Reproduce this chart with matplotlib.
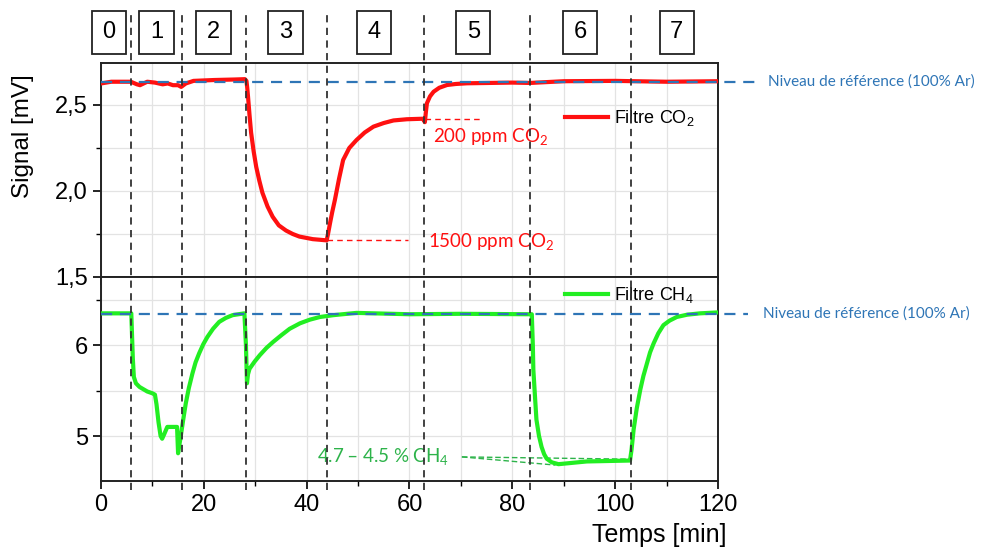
import numpy as np
import matplotlib
matplotlib.use("Agg")
import matplotlib.pyplot as plt
from matplotlib.lines import Line2D
from matplotlib.ticker import MultipleLocator, FuncFormatter
from matplotlib.transforms import blended_transform_factory

plt.rcParams['font.family'] = ['Liberation Sans', 'DejaVu Sans']
plt.rcParams['mathtext.default'] = 'regular'

# signal (time in min)
t_co2 = [0, 2, 5.8, 7.0, 7.6, 9, 10.5, 12, 13, 14, 15, 15.6, 16.5, 18, 22, 26, 28.0,
         28.3, 28.45, 28.6, 28.9, 29.2, 29.7, 30.2, 30.8, 31.4, 32.4, 33.4, 34.6, 36, 37.3,
         38.6, 41.2, 43.9, 44.2, 44.6, 45.0, 45.5, 46.3, 47.1, 48.3, 49.7, 51.3, 53, 55,
         56.9, 59.5, 62.6, 63.0, 63.2, 63.4, 64.0, 64.7, 65.8, 67.3, 69, 71.2, 80, 83.5,
         90, 100, 110, 120]
v_co2 = [2.625, 2.635, 2.635, 2.62, 2.615, 2.635, 2.63, 2.62, 2.625, 2.615, 2.615, 2.605,
         2.625, 2.64, 2.645, 2.648, 2.65,
         2.64, 2.60, 2.55, 2.44, 2.34, 2.23, 2.14, 2.06, 1.99, 1.91, 1.85, 1.80, 1.77, 1.75,
         1.735, 1.72, 1.713, 1.756, 1.82, 1.88, 1.948, 2.07, 2.18, 2.25, 2.296, 2.34, 2.374, 2.395,
         2.41, 2.417, 2.42, 2.40, 2.46, 2.51, 2.55, 2.577, 2.60, 2.616, 2.622, 2.626, 2.63, 2.628,
         2.638, 2.64, 2.635, 2.638]

t_ch4 = [0, 5.9, 6.05, 6.2, 6.4, 6.8, 7.5, 8.1, 9.0, 10.0, 10.5, 10.8, 11.2, 11.6, 11.9,
         12.3, 12.9, 14.8, 15.0, 15.5, 16.0, 16.5, 17.1, 17.8, 18.4, 19.1, 19.9, 20.7, 21.8,
         23.0, 24.3, 25.6, 27.9, 28.2, 28.4, 28.6, 28.9, 29.9, 30.9, 32.2, 33.5, 35.1, 36.7,
         38.7, 40.6, 42.6, 45.2, 49.7, 60, 70, 83.5, 83.8, 84.0, 84.1, 84.4, 84.7, 85.2,
         85.7, 86.2, 86.7, 87.7, 89.0, 94.5, 102.9, 103.2, 103.6, 104.2, 104.9, 105.5,
         106.2, 106.8, 107.5, 108.4, 109.4, 110.6, 112.0, 114, 116.5, 120]
v_ch4 = [6.35, 6.35, 6.1, 5.85, 5.65, 5.58, 5.54, 5.52, 5.49, 5.47, 5.455, 5.35, 5.15, 5.0,
         4.97, 5.02, 5.10, 5.10, 4.81, 4.99, 5.18, 5.36, 5.53, 5.69, 5.81, 5.91, 6.01, 6.09,
         6.18, 6.256, 6.30, 6.33, 6.35, 6.0, 5.58, 5.68, 5.74, 5.82, 5.89, 5.97, 6.036, 6.11,
         6.18, 6.24, 6.28, 6.31, 6.33, 6.355, 6.34, 6.345, 6.34, 6.34, 6.0, 5.73, 5.45, 5.18,
         5.0, 4.88, 4.80, 4.75, 4.71, 4.69, 4.72, 4.73, 4.85, 5.07, 5.30, 5.51, 5.66, 5.80,
         5.92, 6.02, 6.13, 6.22, 6.27, 6.31, 6.335, 6.35, 6.36]

ref_co2 = 2.636
ref_ch4 = 6.345
steps = [5.8, 15.7, 28.3, 43.9, 62.9, 83.5, 103.1]
step_labels = ['0', '1', '2', '3', '4', '5', '6', '7']
step_label_x = [1.6, 10.8, 21.9, 35.9, 53.1, 72.4, 93.2, 112.0]

red = '#FF1010'
green = '#22EE22'
blue = '#2E75B6'
dgreen = '#2DB34A'
grid_c = '#E3E3E3'

fig = plt.figure(figsize=(9.84, 5.54), dpi=100)
ax1 = fig.add_axes([0.1026, 0.5, 0.627, 0.3863])
ax2 = fig.add_axes([0.1026, 0.1318, 0.627, 0.3682])

for ax in (ax1, ax2):
    ax.set_xlim(0, 120)
    ax.xaxis.set_major_locator(MultipleLocator(20))
    ax.xaxis.set_minor_locator(MultipleLocator(10))
    ax.grid(True, which='both', color=grid_c, lw=0.9)
    ax.set_axisbelow(True)
    ax.tick_params(which='major', length=6, width=1.2, labelsize=17)
    ax.tick_params(which='minor', length=3.5, width=1.0)
    for s in ax.spines.values():
        s.set_linewidth(1.4)
        s.set_color('#222222')

comma = FuncFormatter(lambda v, p: ('%.1f' % v).replace('.', ','))

ax1.set_ylim(1.5, 2.744)
ax1.yaxis.set_major_locator(MultipleLocator(0.5))
ax1.yaxis.set_minor_locator(MultipleLocator(0.25))
ax1.yaxis.set_major_formatter(comma)
ax1.tick_params(axis='x', labelbottom=False)
ax1.set_ylabel('Signal [mV]', fontsize=17.5)
ax1.yaxis.set_label_coords(-0.108, 0.66)

ax2.set_ylim(4.505, 6.75)
ax2.set_yticks([5, 6])
ax2.set_yticks([5.5, 6.5], minor=True)
ax2.set_xlabel('Temps [min]', fontsize=18)
ax2.xaxis.set_label_coords(0.905, -0.205)

ax1.plot(t_co2, v_co2, color=red, lw=3, label='Filtre CO$_2$', zorder=3)
ax2.plot(t_ch4, v_ch4, color=green, lw=3, label='Filtre CH$_4$', zorder=3)

# reference levels
ax1.plot([0, 127.8], [ref_co2, ref_co2], color=blue, lw=1.6, ls=(0, (5, 3.5)), clip_on=False, zorder=4)
ax2.plot([0, 125.9], [ref_ch4, ref_ch4], color=blue, lw=1.6, ls=(0, (5, 3.5)), clip_on=False, zorder=4)
ax1.text(129.8, ref_co2, 'Niveau de référence (100% Ar)', color=blue, fontsize=11,
         family=['Lato', 'DejaVu Sans'], va='center', ha='left', clip_on=False)
ax2.text(128.8, ref_ch4, 'Niveau de référence (100% Ar)', color=blue, fontsize=11,
         family=['Lato', 'DejaVu Sans'], va='center', ha='left', clip_on=False)

# CO2 annotations
ax1.plot([44, 59.7], [1.715, 1.715], color=red, lw=1, ls=(0, (4, 3)))
ax1.plot([63, 73.7], [2.42, 2.42], color=red, lw=1, ls=(0, (4, 3)))
ax1.text(64.6, 2.314, '200 ppm CO$_2$', color=red, fontsize=13.5,
         family=['Lato', 'DejaVu Sans'], va='center', ha='left')
ax1.text(63.6, 1.705, '1500 ppm CO$_2$', color=red, fontsize=13.5,
         family=['Lato', 'DejaVu Sans'], va='center', ha='left')

# CH4 annotation
ax2.plot([70.2, 103], [4.77, 4.745], color=dgreen, lw=1, ls=(0, (4, 2)))
ax2.plot([70.2, 88.4], [4.77, 4.68], color=dgreen, lw=1, ls=(0, (4, 2)))
ax2.text(42.0, 4.77, '4.7 – 4.5 % CH$_4$', color=dgreen, fontsize=13.5,
         family=['Lato', 'DejaVu Sans'], va='center', ha='left')

ax1.legend(loc='center left', bbox_to_anchor=(0.752, 0.743), frameon=False, fontsize=13,
           borderaxespad=0, borderpad=0, handlelength=2.4, handletextpad=0.3)
ax2.legend(loc='center left', bbox_to_anchor=(0.752, 0.912), frameon=False, fontsize=13,
           borderaxespad=0, borderpad=0, handlelength=2.4, handletextpad=0.3)

# step boundaries across both panels
tr = blended_transform_factory(ax2.transData, fig.transFigure)
for s in steps:
    fig.add_artist(Line2D([s, s], [0.1155, 0.978], transform=tr, color='#333333',
                          lw=1.3, ls=(0, (4, 3))))

# step numbers in boxes
for x, lab in zip(step_label_x, step_labels):
    ax1.text(x, 1.1425, lab, transform=blended_transform_factory(ax1.transData, ax1.transAxes),
             fontsize=17, ha='center', va='center',
             bbox=dict(boxstyle='square,pad=0.45', fc='white', ec='#222222', lw=1.3))

fig.savefig('out.png', dpi=100)
